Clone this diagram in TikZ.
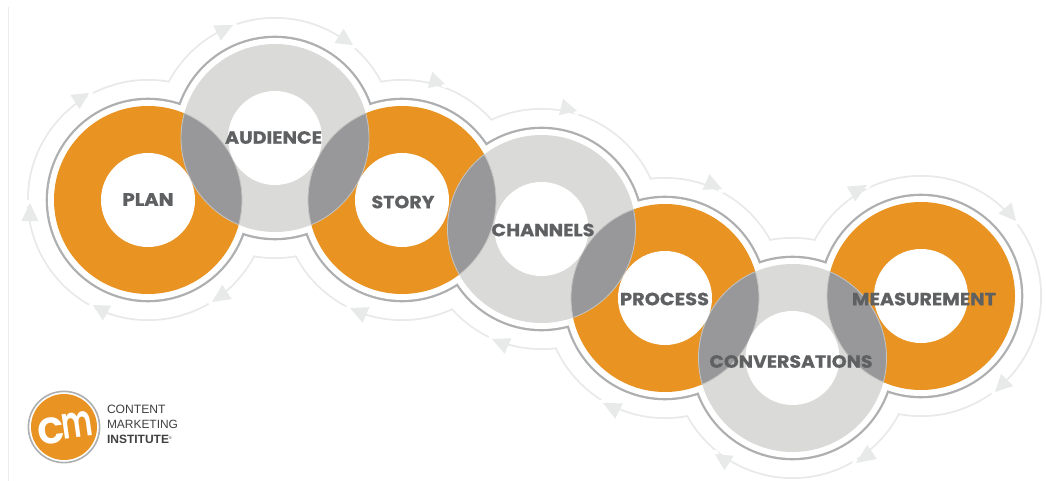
\documentclass[tikz,border=0pt]{standalone}
\usepackage{fontspec}
\usepackage{graphicx}
\usetikzlibrary{calc}
\setmainfont{Liberation Sans}
\newfontfamily\labfont[FakeBold=0.6]{Poppins Bold}
\newfontfamily\logofont{Poppins SemiBold}
\definecolor{ringorange}{HTML}{E99323}
\definecolor{ringgrey}{HTML}{DADAD8}
\definecolor{lensgrey}{HTML}{98989A}
\definecolor{lensedge}{HTML}{C4C4C2}
\definecolor{outline}{HTML}{AEAFB1}
\definecolor{loopgrey}{HTML}{E8E9E9}
\definecolor{labgrey}{HTML}{5F6062}
\tikzset{
  x=1pt,y=-1pt,
  lab/.style={text=labgrey,inner sep=0pt,outer sep=0pt},
  logotxt/.style={text=black!75,inner sep=0pt,outer sep=0pt,anchor=west,font=\fontsize{12}{12}\selectfont},
}
\newcommand{\labtxt}[2]{\resizebox{#1pt}{12.6pt}{\labfont #2}}
\newcommand{\looparrow}[4]{%
  \fill[white] (#1,#2) circle[radius=4pt];
  \coordinate (T) at (#1,#2);\coordinate (B) at (#3,#4);
  \fill[loopgrey] (T) -- ($(B)!8.5pt!90:(T)$) -- ($(B)!8.5pt!-90:(T)$) -- cycle;}
\def\centres{148/200,275/138,402/200,541.5/229,665/298,792.5/358,921/296}
\begin{document}
\begin{tikzpicture}
\useasboundingbox (0,0) rectangle (1046,481);
\fill[white] (0,0) rectangle (1046,481);
\draw[line width=1pt,black!7] (8,7) -- (8,481);
% outer loop
\foreach \x/\y in \centres {\fill[loopgrey] (\x,\y) circle[radius=121pt];}
\foreach \x/\y in \centres {\fill[white] (\x,\y) circle[radius=119.2pt];}
\looparrow{30}{203}{30}{221}
\looparrow{89}{93}{75}{102}
\looparrow{233}{25}{217}{33}
\looparrow{353}{45}{339}{36}
\looparrow{445}{84}{430}{80}
\looparrow{577}{111}{561}{107}
\looparrow{722}{189}{706}{182}
\looparrow{867}{185}{851}{194}
\looparrow{1016}{221}{1005}{208}
\looparrow{995}{392}{1007}{380}
\looparrow{856}{463}{872}{452}
\looparrow{715}{454}{729}{463}
\looparrow{603}{403}{619}{411}
\looparrow{492}{339}{508}{346}
\looparrow{350}{308}{366}{315}
\looparrow{212}{302}{227}{292}
\looparrow{93}{305}{107}{313}
% outline
\foreach \x/\y in \centres {\fill[outline] (\x,\y) circle[radius=102.3pt];}
\foreach \x/\y in \centres {\fill[white] (\x,\y) circle[radius=100pt];}
% rings
\foreach \x/\y/\c in {148/200/ringorange,402/200/ringorange,665/298/ringorange,921/296/ringorange,275/138/ringgrey,541.5/229/ringgrey,792.5/358/ringgrey}
  {\fill[\c] (\x,\y) circle[radius=94pt];}
% overlaps
\foreach \xa/\ya/\xb/\yb in {148/200/275/138,275/138/402/200,402/200/541.5/229,541.5/229/665/298,665/298/792.5/358,792.5/358/921/296}{
  \begin{scope}
    \clip (\xa,\ya) circle[radius=94pt];
    \fill[lensgrey] (\xb,\yb) circle[radius=94pt];
    \draw[lensedge,line width=.8pt] (\xb,\yb) circle[radius=94pt];
  \end{scope}
  \begin{scope}
    \clip (\xb,\yb) circle[radius=94pt];
    \draw[lensedge,line width=.8pt] (\xa,\ya) circle[radius=94pt];
  \end{scope}
}
\foreach \x/\y in \centres {\fill[white] (\x,\y) circle[radius=47pt];}
% labels
\node[lab] (plan) at (148,199.5) {\labtxt{51}{PLAN}};
\node[lab] (audience) at (273.5,137.5) {\labtxt{97}{AUDIENCE}};
\node[lab] (story) at (403,202) {\labtxt{63}{STORY}};
\node[lab] (channels) at (543,230) {\labtxt{103}{CHANNELS}};
\node[lab] (process) at (664.5,299) {\labtxt{89}{PROCESS}};
\node[lab] (conversations) at (791,361.5) {\labtxt{163}{CONVERSATIONS}};
\node[lab] (measurement) at (924,299) {\labtxt{144}{MEASUREMENT}};
% logo
\draw[outline,fill=white,line width=1.6pt] (64,427) circle[radius=35.6pt];
\fill[ringorange] (64,427) circle[radius=33pt];
\node[text=white,inner sep=0pt,rotate=8] (logoc) at (51,430.5) {\resizebox{27pt}{26pt}{\logofont c}};
\node[text=white,inner sep=0pt,rotate=8] (logom) at (77,425) {\resizebox{31pt}{25pt}{\logofont m}};
\node[logotxt] (l1) at (107,409) {\resizebox{58.5pt}{!}{CONTENT}};
\node[logotxt] (l2) at (107,424) {\resizebox{71pt}{!}{MARKETING}};
\node[logotxt] (l3) at (107,439) {\textbf{INSTITUTE}\raisebox{3.5pt}{\fontsize{4}{4}\selectfont ®}};
\end{tikzpicture}
\end{document}
